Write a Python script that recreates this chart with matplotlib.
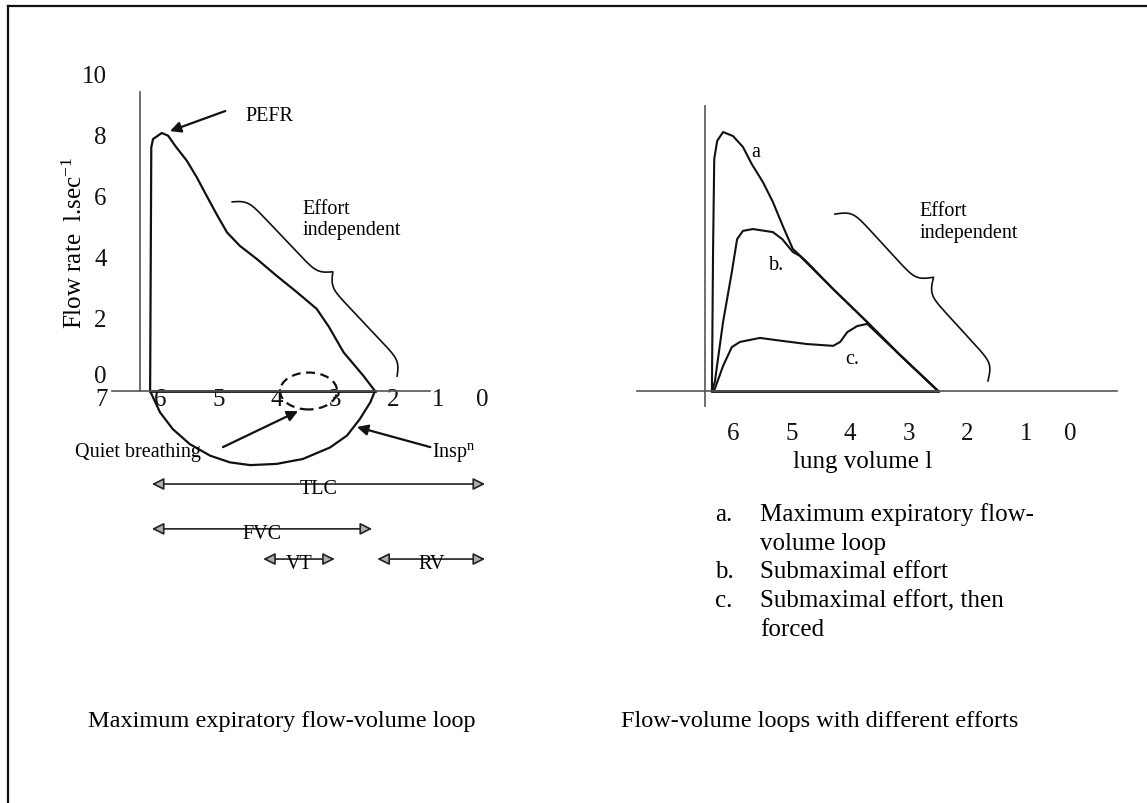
import numpy as np
import matplotlib
matplotlib.use("Agg")
import matplotlib.pyplot as plt
from matplotlib.patches import Ellipse, FancyArrowPatch
from matplotlib.lines import Line2D
from matplotlib.transforms import ScaledTranslation

plt.rcParams['font.family'] = ['Liberation Serif', 'DejaVu Serif']
plt.rcParams['mathtext.default'] = 'regular'

W, H, DPI = 1147, 804, 100

# ---------------- data ----------------
vol_ticks_left = [7, 6, 5, 4, 3, 2, 1, 0]
vol_ticks_right = [6, 5, 4, 3, 2, 1, 0]
flow_ticks = [0, 2, 4, 6, 8, 10]

# left panel: maximum expiratory flow-volume loop (volume in l, flow in l/s)
exp_vol = [6.17, 6.15, 6.12, 5.97, 5.86, 5.74, 5.54, 5.37, 5.20, 5.03, 4.85,
           4.63, 4.34, 4.00, 3.65, 3.31, 3.10, 2.85, 2.51, 2.31]
exp_flow = [0.00, 7.99, 8.26, 8.46, 8.37, 8.04, 7.55, 7.01, 6.40, 5.80, 5.20,
            4.76, 4.33, 3.78, 3.24, 2.69, 2.10, 1.27, 0.50, 0.00]
insp_vol = [6.17, 6.00, 5.78, 5.49, 5.14, 4.80, 4.45, 4.00, 3.55, 3.08, 2.79,
            2.57, 2.39, 2.31]
insp_flow = [0.00, -0.70, -1.25, -1.74, -2.12, -2.34, -2.43, -2.39, -2.23,
             -1.85, -1.46, -0.92, -0.37, 0.00]
quiet_centre = (3.45, 0.0)
quiet_size = (0.98, 1.21)

# right panel: loops at different efforts
a_vol = [6.36, 6.34, 6.32, 6.27, 6.17, 6.00, 5.83, 5.68, 5.49, 5.32, 5.15,
         4.98, 4.74, 4.29, 3.71, 3.15, 2.50]
a_flow = [0.00, 4.66, 7.61, 8.20, 8.49, 8.36, 8.00, 7.44, 6.85, 6.20, 5.41,
          4.66, 4.23, 3.34, 2.26, 1.18, 0.00]
b_vol = [6.36, 6.31, 6.17, 6.02, 5.93, 5.83, 5.66, 5.32, 5.16, 4.98, 4.86,
         4.29, 3.71, 3.15, 2.50]
b_flow = [0.00, 0.30, 2.26, 3.90, 4.98, 5.25, 5.31, 5.21, 4.98, 4.56, 4.43,
          3.34, 2.26, 1.18, 0.00]
c_vol = [6.36, 6.31, 6.17, 6.02, 5.88, 5.54, 5.15, 4.74, 4.29, 4.17, 4.05,
         3.88, 3.71, 3.15, 2.50]
c_flow = [0.00, 0.07, 0.82, 1.44, 1.61, 1.74, 1.64, 1.54, 1.48, 1.61, 1.93,
          2.13, 2.20, 1.18, 0.00]

legend_items = [("a.", ["Maximum expiratory flow-", "volume loop"]),
                ("b.", ["Submaximal effort"]),
                ("c.", ["Submaximal effort, then", "forced"])]

# ---------------- figure ----------------
fig = plt.figure(figsize=(W / DPI, H / DPI), dpi=DPI)
fig.patch.set_facecolor('white')

AX_COL = '#555555'
LINE_COL = '#111111'
BIG = 18
SMALL = 14.5

ax1 = fig.add_axes([0.06332, 0.24689, 0.39110, 0.65249])
ax1.set_xlim(7.5, -0.2)
ax1.set_ylim(-7.0, 10.2)
ax2 = fig.add_axes([0.54199, 0.24689, 0.44448, 0.65249])
ax2.set_xlim(7.9, -0.8)
ax2.set_ylim(-7.0, 10.2)

for ax in (ax1, ax2):
    ax.patch.set_alpha(0)
    ax.spines['top'].set_visible(False)
    ax.spines['right'].set_visible(False)
    ax.spines['bottom'].set_position(('data', 0))
    for s in ('left', 'bottom'):
        ax.spines[s].set_color(AX_COL)
        ax.spines[s].set_linewidth(1.2)
    ax.tick_params(length=0, labelsize=BIG, colors='#111111')

# left axes
ax1.spines['left'].set_position(('data', 6.34))
ax1.spines['left'].set_bounds(0, 9.8)
ax1.spines['bottom'].set_bounds(1.36, 6.82)
ax1.set_xticks(vol_ticks_left)
ax1.set_yticks(flow_ticks)
ax1.tick_params(axis='x', pad=-2)
ax1.tick_params(axis='y', pad=24)
ax1.set_ylabel('Flow rate  l.sec$^{-1}$', fontsize=BIG, va='center')
ax1.yaxis.set_label_coords(0.0053, 0.691)

# right axes
ax2.spines['left'].set_position(('data', 6.48))
ax2.spines['left'].set_bounds(-0.49, 9.34)
ax2.spines['bottom'].set_bounds(-0.55, 7.64)
ax2.set_xticks(vol_ticks_right)
ax2.set_yticks([])
ax2.tick_params(axis='x', pad=22)
ax2.set_xlabel('lung volume l', fontsize=BIG, va='center')
ax2.xaxis.set_label_coords(0.4734, 0.2735)


def nudge(labels, shifts, axis):
    """Hand-set offsets (pixels) of tick labels, as typeset on the figure."""
    for lab, d in zip(labels, shifts):
        dx, dy = (d, 0) if axis == 'x' else (0, d)
        lab.set_transform(lab.get_transform() +
                          ScaledTranslation(dx / DPI, dy / DPI,
                                            fig.dpi_scale_trans))


nudge(ax1.get_yticklabels(), [17, 12, 12, 12, 12, 12], 'y')
nudge(ax1.get_xticklabels(), [0, 0, 0, 0, 0, 0, -13, -27], 'x')
nudge(ax2.get_xticklabels(), [0, 0, 0, 0, 0, 0, -14], 'x')


def draw_brace(ax, start, end, width, sharp=0.2, **kw):
    """Curly brace from start to end (data coords), bulging to the left of travel."""
    p0 = ax.transData.transform(start)
    p1 = ax.transData.transform(end)
    d = p1 - p0
    L = np.hypot(*d)
    u = d / L
    nrm = np.array([-u[1], u[0]])
    s = np.linspace(0, L / 2, 200)
    h = (1 / (1 + np.exp(-sharp * (s - s[0]))) +
         1 / (1 + np.exp(-sharp * (s - s[-1])))) - 0.5
    s_full = np.concatenate([s, L - s[::-1]])
    h_full = np.concatenate([h, h[::-1]])
    pts = p0 + np.outer(s_full, u) + np.outer(h_full * width, nrm)
    xy = ax.transData.inverted().transform(pts)
    ax.plot(xy[:, 0], xy[:, 1], clip_on=False, **kw)


def span_arrow(ax, x0, x1, y, label):
    arr = FancyArrowPatch((x0, y), (x1, y), arrowstyle='<|-|>',
                          mutation_scale=18, shrinkA=0, shrinkB=0,
                          fc='#b0b0b0', ec='#222222', lw=1.2, clip_on=False)
    ax.add_patch(arr)
    ax.text((x0 + x1) / 2, y - 0.15, label, ha='center', va='center',
            fontsize=SMALL, clip_on=False)


# ----- left panel -----
ax1.plot(exp_vol, exp_flow, color=LINE_COL, lw=1.6, clip_on=False)
ax1.plot(insp_vol, insp_flow, color=LINE_COL, lw=1.6, clip_on=False)
ax1.plot([exp_vol[0], exp_vol[-1]], [0, 0], color=LINE_COL, lw=2.0)
ax1.add_patch(Ellipse(quiet_centre, quiet_size[0], quiet_size[1], fill=False,
                      ec=LINE_COL, lw=1.6, ls=(0, (4, 2.5))))

draw_brace(ax1, (4.76, 6.20), (1.93, 0.49), 25, color=LINE_COL, lw=1.2)
ax1.text(3.56, 5.64, 'Effort\nindependent', fontsize=SMALL, ha='left',
         va='center', linespacing=1.2)

ax1.annotate('', xy=(5.83, 8.52), xytext=(4.88, 9.18),
             arrowprops=dict(arrowstyle='-|>', color=LINE_COL, lw=1.6,
                             mutation_scale=16, shrinkA=0, shrinkB=0))
ax1.text(4.54, 9.02, 'PEFR', fontsize=SMALL, ha='left', va='center')

ax1.annotate('', xy=(3.63, -0.66), xytext=(4.92, -1.84),
             arrowprops=dict(arrowstyle='-|>', color=LINE_COL, lw=1.6,
                             mutation_scale=16, shrinkA=0, shrinkB=0))
ax1.text(7.46, -2.0, 'Quiet breathing', fontsize=SMALL, ha='left',
         va='center', clip_on=False)

ax1.annotate('', xy=(2.62, -1.18), xytext=(1.36, -1.84),
             arrowprops=dict(arrowstyle='-|>', color=LINE_COL, lw=1.6,
                             mutation_scale=16, shrinkA=0, shrinkB=0))
ax1.text(1.33, -2.0, 'Insp$^{n}$', fontsize=SMALL, ha='left', va='center')

span_arrow(ax1, 6.14, 0.42, -3.05, 'TLC')
span_arrow(ax1, 6.14, 2.36, -4.52, 'FVC')
span_arrow(ax1, 4.23, 3.00, -5.51, 'VT')
span_arrow(ax1, 2.27, 0.42, -5.51, 'RV')

# ----- right panel -----
for v, f in ((a_vol, a_flow), (b_vol, b_flow), (c_vol, c_flow)):
    ax2.plot(v, f, color=LINE_COL, lw=1.5, clip_on=False)
ax2.plot([a_vol[0], a_vol[-1]], [0, 0], color=LINE_COL, lw=2.0)
ax2.text(5.62, 7.84, 'a', fontsize=SMALL, ha='center', va='center')
ax2.text(5.25, 4.16, 'b.', fontsize=SMALL, ha='center', va='center')
ax2.text(3.97, 1.05, 'c.', fontsize=SMALL, ha='center', va='center')

draw_brace(ax2, (4.26, 5.80), (1.65, 0.33), 30, color=LINE_COL, lw=1.2)
ax2.text(2.81, 5.57, 'Effort\nindependent', fontsize=SMALL, ha='left',
         va='center', linespacing=1.2)

# key under the right panel
row = 0
for letter, lines in legend_items:
    for i, line in enumerate(lines):
        y = 1 - (515 + 28.7 * row) / H
        if i == 0:
            fig.text(715 / W, y, letter, fontsize=BIG, ha='left', va='center')
        fig.text(760 / W, y, line, fontsize=BIG, ha='left', va='center')
        row += 1

# panel captions
fig.text(88 / W, 1 - 722 / H, 'Maximum expiratory flow-volume loop',
         fontsize=17.5, ha='left', va='center')
fig.text(621 / W, 1 - 722 / H, 'Flow-volume loops with different efforts',
         fontsize=17.5, ha='left', va='center')

# outer frame (top and left edges)
fig.add_artist(Line2D([8 / W, 1.0], [1 - 7 / H, 1 - 7 / H],
                      transform=fig.transFigure, color='#111111', lw=1.6))
fig.add_artist(Line2D([8 / W, 8 / W], [1 - 7 / H, 0.0],
                      transform=fig.transFigure, color='#111111', lw=1.6))

fig.savefig('out.png', dpi=DPI)
